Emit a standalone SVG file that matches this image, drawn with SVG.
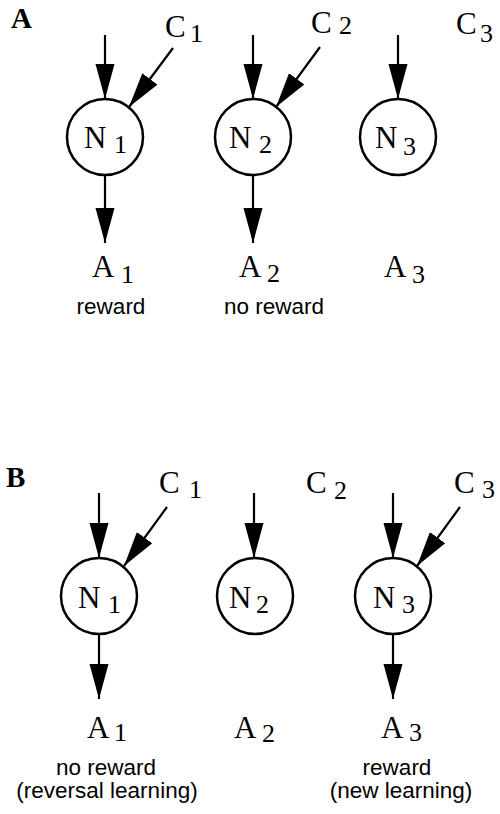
<svg xmlns="http://www.w3.org/2000/svg" width="500" height="814" viewBox="0 0 500 814">
  <style>
    .node { fill: #fff; stroke: #000; stroke-width: 2.5; }
    .wire { stroke: #000; stroke-width: 2.2; fill: none; marker-end: url(#head); }
    .sym { font-family: "Liberation Serif", "Times New Roman", serif; font-size: 31px; fill: #000; }
    .sub { font-size: 26px; }
    .panel { font-family: "Liberation Serif", "Times New Roman", serif; font-size: 29px; font-weight: bold; fill: #000; }
    .note { font-family: "Liberation Sans", Arial, sans-serif; font-size: 22.5px; fill: #000; text-anchor: middle; }
  </style>
  <defs>
    <marker id="head" markerUnits="userSpaceOnUse" markerWidth="36" markerHeight="20" refX="35" refY="9.5" orient="auto">
      <path d="M0,0 L35,9.5 L0,19 Z" fill="#000"/>
    </marker>
  </defs>

  <!-- panel letters -->
  <text class="panel" x="11" y="28">A</text>
  <text class="panel" x="6" y="487">B</text>

  <g id="connectors">
    <!-- A: inputs -->
    <line class="wire" x1="105" y1="35" x2="105" y2="99"/>
    <line class="wire" x1="173" y1="48" x2="129" y2="107"/>
    <line class="wire" x1="253" y1="35" x2="253" y2="99"/>
    <line class="wire" x1="320" y1="47" x2="276" y2="107"/>
    <line class="wire" x1="398" y1="35" x2="398" y2="99"/>
    <!-- A: outputs -->
    <line class="wire" x1="105" y1="175" x2="105" y2="243"/>
    <line class="wire" x1="253" y1="175" x2="253" y2="243"/>
    <!-- B: inputs -->
    <line class="wire" x1="99" y1="493" x2="99" y2="558"/>
    <line class="wire" x1="167" y1="507" x2="124" y2="566"/>
    <line class="wire" x1="254" y1="493" x2="254" y2="558"/>
    <line class="wire" x1="393" y1="493" x2="393" y2="558"/>
    <line class="wire" x1="460" y1="507" x2="417" y2="566"/>
    <!-- B: outputs -->
    <line class="wire" x1="99" y1="634" x2="99" y2="699"/>
    <line class="wire" x1="393" y1="634" x2="393" y2="699"/>
  </g>

  <!-- A: cue labels -->
  <g id="a-c1"><text class="sym" x="165" y="37">C<tspan class="sub" x="190" y="42">1</tspan></text></g>
  <g id="a-c2"><text class="sym" x="311" y="33">C<tspan class="sub" x="339" y="34">2</tspan></text></g>
  <g id="a-c3"><text class="sym" x="456" y="34">C<tspan class="sub" x="480" y="42">3</tspan></text></g>

  <!-- A: neurons -->
  <g id="a-n1">
    <circle class="node" cx="105" cy="137" r="38"/>
    <text class="sym" x="84" y="148">N<tspan class="sub" x="114" y="153">1</tspan></text>
  </g>
  <g id="a-n2">
    <circle class="node" cx="253" cy="137" r="38"/>
    <text class="sym" x="229" y="148">N<tspan class="sub" x="259" y="153">2</tspan></text>
  </g>
  <g id="a-n3">
    <circle class="node" cx="398" cy="137" r="38"/>
    <text class="sym" x="375" y="148">N<tspan class="sub" x="403" y="155">3</tspan></text>
  </g>

  <!-- A: actions -->
  <g id="a-a1"><text class="sym" x="92" y="277">A<tspan class="sub" x="121" y="283">1</tspan></text></g>
  <g id="a-a2"><text class="sym" x="239" y="277">A<tspan class="sub" x="267" y="282">2</tspan></text></g>
  <g id="a-a3"><text class="sym" x="384" y="277">A<tspan class="sub" x="412" y="283">3</tspan></text></g>
  <text class="note" x="111" y="314">reward</text>
  <text class="note" x="274" y="314">no reward</text>

  <!-- B: cue labels -->
  <g id="b-c1"><text class="sym" x="159" y="493">C<tspan class="sub" x="189" y="498">1</tspan></text></g>
  <g id="b-c2"><text class="sym" x="306" y="493">C<tspan class="sub" x="334" y="499">2</tspan></text></g>
  <g id="b-c3"><text class="sym" x="454" y="493">C<tspan class="sub" x="482" y="498">3</tspan></text></g>

  <!-- B: neurons -->
  <g id="b-n1">
    <circle class="node" cx="99" cy="596" r="38"/>
    <text class="sym" x="78" y="608">N<tspan class="sub" x="108" y="613">1</tspan></text>
  </g>
  <g id="b-n2">
    <circle class="node" cx="255" cy="596" r="38"/>
    <text class="sym" x="229" y="608">N<tspan class="sub" x="256" y="613">2</tspan></text>
  </g>
  <g id="b-n3">
    <circle class="node" cx="393" cy="596" r="38"/>
    <text class="sym" x="373" y="608">N<tspan class="sub" x="402" y="613">3</tspan></text>
  </g>

  <!-- B: actions -->
  <g id="b-a1"><text class="sym" x="87" y="738">A<tspan class="sub" x="114" y="741">1</tspan></text></g>
  <g id="b-a2"><text class="sym" x="234" y="738">A<tspan class="sub" x="262" y="742">2</tspan></text></g>
  <g id="b-a3"><text class="sym" x="381" y="738">A<tspan class="sub" x="409" y="741">3</tspan></text></g>
  <text class="note" x="106" y="775">no reward</text>
  <text class="note" x="107" y="798">(reversal learning)</text>
  <text class="note" x="397" y="775">reward</text>
  <text class="note" x="401" y="798">(new learning)</text>
</svg>
